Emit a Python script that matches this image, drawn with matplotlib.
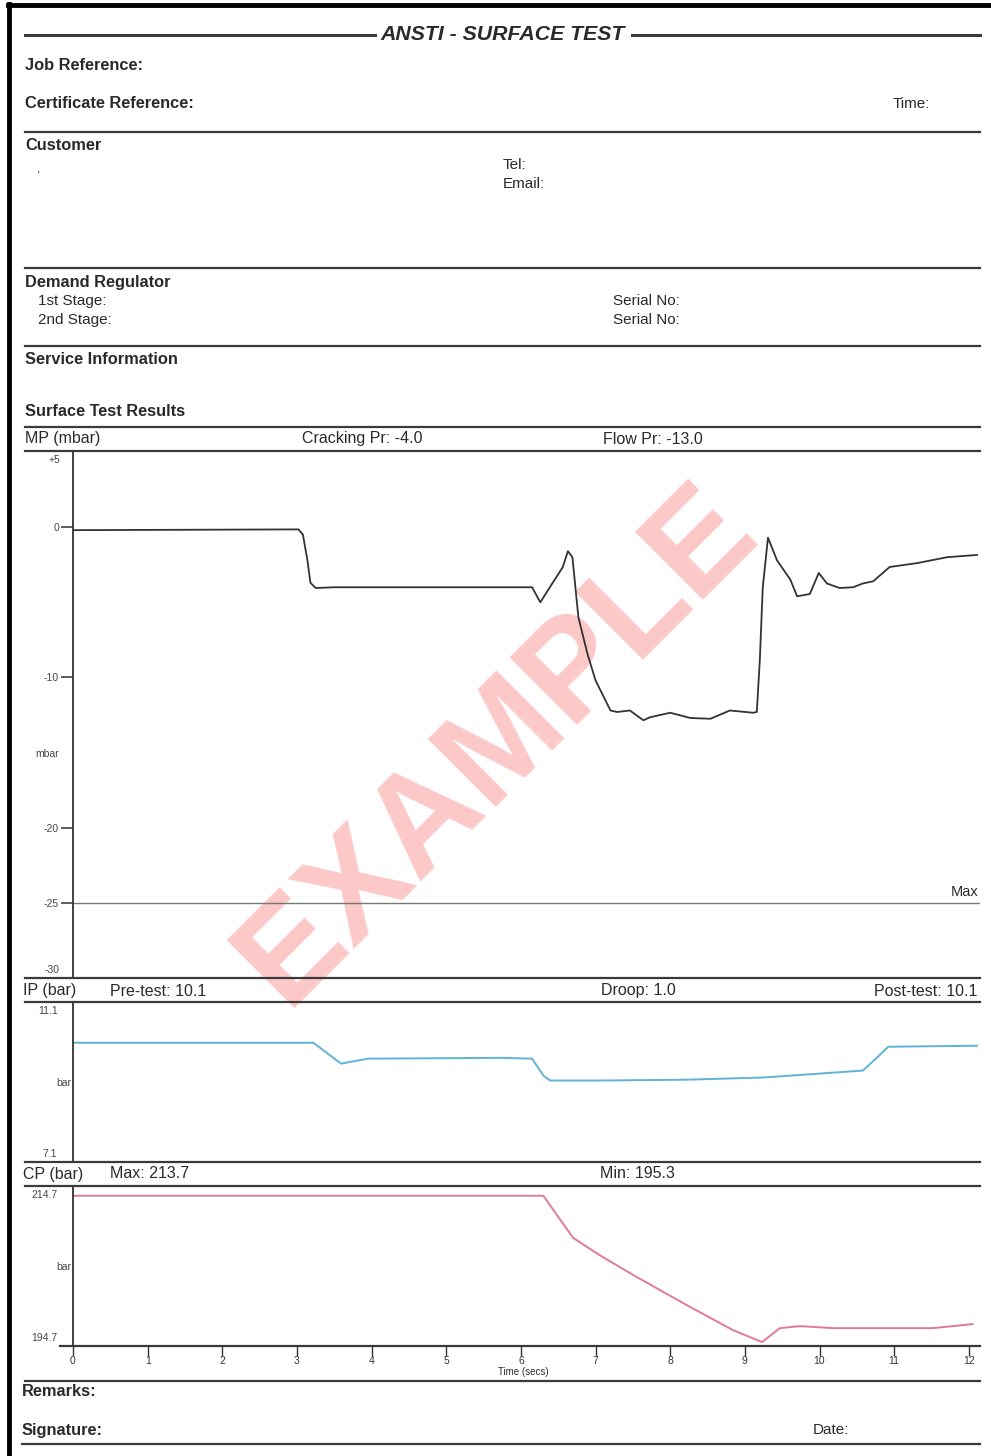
import matplotlib
matplotlib.use('Agg')
import matplotlib.pyplot as plt
from matplotlib.lines import Line2D

plt.rcParams['font.family'] = ['Liberation Sans', 'DejaVu Sans']

# ─────────────────────────────────────────────
# Data
# ─────────────────────────────────────────────

# mouthpiece pressure (mbar) vs time (s)
mp_t = [0.0, 3.02, 3.08, 3.14, 3.18, 3.25, 3.5, 4.5, 5.6, 6.15, 6.26, 6.35, 6.43, 6.56,
        6.63, 6.69, 6.77, 6.89, 7.00, 7.20, 7.29, 7.46, 7.64, 7.73, 8.00, 8.27,
        8.54, 8.80, 9.11, 9.16, 9.20, 9.24, 9.31, 9.43, 9.61, 9.70, 9.87, 9.99,
        10.10, 10.27, 10.45, 10.58, 10.72, 10.94, 11.30, 11.71, 12.11]
mp_v = [-0.2, -0.15, -0.5, -2.2, -3.7, -4.05, -4.0, -4.0, -4.0, -4.0, -5.0, -4.3, -3.67, -2.67,
        -1.6, -2.0, -6.0, -8.4, -10.2, -12.2, -12.3, -12.2, -12.85, -12.65, -12.35, -12.7,
        -12.75, -12.2, -12.35, -12.3, -8.9, -4.0, -0.7, -2.2, -3.5, -4.6, -4.45, -3.05,
        -3.75, -4.05, -4.0, -3.75, -3.6, -2.65, -2.4, -2.0, -1.85]

# intermediate pressure (bar)
ip_t = [0.01, 3.22, 3.59, 3.95, 5.73, 6.15, 6.30, 6.39, 7.06, 8.2, 9.24, 10.58,
        10.77, 10.92, 12.11]
ip_v = [10.1, 10.1, 9.575, 9.7, 9.72, 9.7, 9.275, 9.15, 9.15, 9.17, 9.225, 9.4,
        9.725, 10.0, 10.025]

# cylinder pressure (bar)
cp_t = [0.0, 3.0, 6.30, 6.70, 7.06, 7.51, 8.23, 8.84, 9.23, 9.47, 9.74, 10.18,
        11.52, 12.05]
cp_v = [213.6, 213.6, 213.6, 208.3, 206.1, 203.6, 199.8, 196.7, 195.2, 196.95,
        197.2, 196.95, 196.95, 197.45]

mp_ticks = [0, -10, -15, -20, -25]
mp_ticklabels = ['0', '-10', 'mbar', '-20', '-25']
mp_range = (-30, 5)
mp_max = -25
ip_range = (7.1, 11.1)
cp_range = (194.7, 214.7)
time_ticks = list(range(13))

cracking_pr = '-4.0'
flow_pr = '-13.0'
ip_pre, ip_droop, ip_post = '10.1', '1.0', '10.1'
cp_max, cp_min = '213.7', '195.3'

# ─────────────────────────────────────────────
# Page layout helpers (pixel coords, y down)
# ─────────────────────────────────────────────

W, H = 991, 1456
fig = plt.figure(figsize=(W / 100, H / 100), dpi=100)
INK = '#2a2a2a'


def fx(x):
    return x / W


def fy(y):
    return 1 - y / H


def hline(y, x0=25, x1=980, lw=1.6, color='#3a3a3a'):
    fig.add_artist(Line2D([fx(x0), fx(x1)], [fy(y), fy(y)],
                          transform=fig.transFigure, lw=lw, color=color))


def label(x, y, s, size=11, bold=False, color=INK, **kw):
    fig.text(fx(x), fy(y), s, va='center', fontsize=size, color=color,
             fontweight='bold' if bold else 'normal', **kw)


def add_ax(top, bottom):
    ax = fig.add_axes([fx(73), fy(bottom), fx(980) - fx(73), (bottom - top) / H])
    ax.set_facecolor('none')
    for s in ['top', 'right', 'bottom']:
        ax.spines[s].set_visible(False)
    ax.spines['left'].set_color('#333333')
    ax.spines['left'].set_linewidth(1.3)
    ax.set_xlim(0, 12.15)
    ax.set_xticks([])
    return ax


# page frame
fig.add_artist(Line2D([fx(9), fx(9)], [fy(4), fy(H)], transform=fig.transFigure,
                      lw=3.5, color='black'))
fig.add_artist(Line2D([fx(8), fx(W)], [fy(5), fy(5)], transform=fig.transFigure,
                      lw=3.5, color='black'))

# watermark
fig.text(fx(498), fy(745), 'EXAMPLE', fontsize=100, fontweight='bold', color='#fcc8c8',
         rotation=45, ha='center', va='center', zorder=-1)

# header
hline(35, 25, 375, lw=2.2)
hline(35, 632, 980, lw=2.2)
fig.text(fx(503), fy(35), 'ANSTI - SURFACE TEST', ha='center', va='center',
         fontsize=15.3, fontweight='bold', fontstyle='italic', color=INK)

HB = 11.8
label(25, 65, 'Job Reference:', size=HB, bold=True)
label(25, 104, 'Certificate Reference:', size=HB, bold=True)
label(893, 104, 'Time:')
hline(132)
label(25, 146, 'Customer', size=HB, bold=True)
label(37, 170, ',', size=9)
label(503, 165, 'Tel:')
label(503, 184, 'Email:')
hline(268)
label(25, 282, 'Demand Regulator', size=HB, bold=True)
label(38, 301, '1st Stage:')
label(38, 320, '2nd Stage:')
label(613, 301, 'Serial No:')
label(613, 320, 'Serial No:')
hline(346)
label(25, 359, 'Service Information', size=HB, bold=True)
label(25, 412, 'Surface Test Results', size=HB, bold=True)
hline(427)

# ─────────────────────────────────────────────
# MP panel
# ─────────────────────────────────────────────
label(25, 439, 'MP (mbar)', size=11.5)
label(302, 439, f'Cracking Pr: {cracking_pr}', size=11.5)
label(603, 439, f'Flow Pr: {flow_pr}', size=11.5)
hline(451)

ax_mp = add_ax(452, 978)
ax_mp.set_ylim(*mp_range)
ax_mp.set_yticks(mp_ticks)
ax_mp.set_yticklabels(mp_ticklabels)
ax_mp.tick_params(axis='y', length=9, width=1.1, color='#333333', labelsize=7.5,
                  labelcolor='#444444', pad=1)
for t, lab in zip(ax_mp.yaxis.get_major_ticks(), mp_ticklabels):
    if lab == 'mbar':
        t.tick1line.set_visible(False)
ax_mp.axhline(mp_max, color='#777777', lw=1.0)
ax_mp.plot(mp_t, mp_v, color='#333333', lw=1.3)
label(60, 460, f'+{mp_range[1]}', size=7.5, color='#444444', ha='right')
label(60, 970, f'{mp_range[0]}', size=7.5, color='#444444', ha='right')
label(978, 892, 'Max', size=10.5, ha='right')
hline(978)

# ─────────────────────────────────────────────
# IP panel
# ─────────────────────────────────────────────
label(23, 991, 'IP (bar)', size=11.5)
label(110, 991, f'Pre-test: {ip_pre}', size=11.5)
label(601, 991, f'Droop: {ip_droop}', size=11.5)
label(977, 991, f'Post-test: {ip_post}', size=11.5, ha='right')
hline(1002)

ax_ip = add_ax(1003, 1162)
ax_ip.set_ylim(*ip_range)
ax_ip.set_yticks([])
ax_ip.plot(ip_t, ip_v, color='#5fb4d6', lw=1.4)
label(58, 1011, f'{ip_range[1]}', size=7.5, color='#444444', ha='right')
label(71, 1083, 'bar', size=7.5, color='#444444', ha='right')
label(57, 1154, f'{ip_range[0]}', size=7.5, color='#444444', ha='right')
hline(1162)

# ─────────────────────────────────────────────
# CP panel
# ─────────────────────────────────────────────
label(23, 1174, 'CP (bar)', size=11.5)
label(110, 1174, f'Max: {cp_max}', size=11.5)
label(600, 1174, f'Min: {cp_min}', size=11.5)
hline(1186)

ax_cp = add_ax(1187, 1346)
ax_cp.set_ylim(*cp_range)
ax_cp.set_yticks([])
ax_cp.plot(cp_t, cp_v, color='#e07b97', lw=1.4)
ax_cp.set_xticks(time_ticks)
ax_cp.tick_params(axis='x', length=7, width=1.0, color='#333333', labelsize=7.5,
                  labelcolor='#333333', pad=0.5)
label(58, 1195, f'{cp_range[1]}', size=7.5, color='#444444', ha='right')
label(71, 1267, 'bar', size=7.5, color='#444444', ha='right')
label(57, 1338, f'{cp_range[0]}', size=7.5, color='#444444', ha='right')
hline(1346, 60, 980, lw=1.6)
label(523, 1372, 'Time (secs)', size=7, ha='center')

# footer
hline(1381)
label(22, 1391, 'Remarks:', size=HB, bold=True)
label(22, 1430, 'Signature:', size=HB, bold=True)
label(813, 1430, 'Date:')
hline(1444, 22, 980)

plt.savefig('out.png', dpi=100)
